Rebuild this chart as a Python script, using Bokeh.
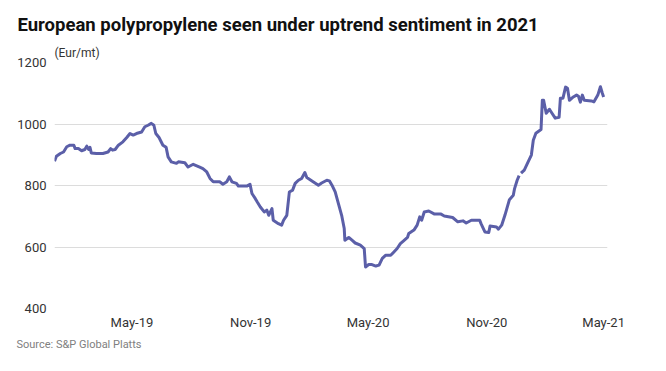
import numpy as np
import pandas as pd
from bokeh.plotting import figure
from bokeh.models import Range1d, FixedTicker, DatetimeTickFormatter, Title, ColumnDataSource
from bokeh.embed import file_html
from bokeh.resources import INLINE

# ---- data ----
dates = [
    "2019-01-01", "2019-01-04", "2019-01-10", "2019-01-15", "2019-01-20", "2019-01-25",
    "2019-01-31", "2019-02-02", "2019-02-07", "2019-02-12", "2019-02-17", "2019-02-20",
    "2019-02-23", "2019-02-25", "2019-02-27", "2019-03-07", "2019-03-17", "2019-03-25",
    "2019-03-29", "2019-04-01", "2019-04-05", "2019-04-10", "2019-04-17", "2019-04-23",
    "2019-04-28", "2019-05-03", "2019-05-08", "2019-05-16", "2019-05-21", "2019-05-26",
    "2019-05-31", "2019-06-04", "2019-06-07", "2019-06-12", "2019-06-18", "2019-06-23",
    "2019-06-26", "2019-07-01", "2019-07-09", "2019-07-12", "2019-07-22", "2019-07-27",
    "2019-08-04", "2019-08-14", "2019-08-19", "2019-08-25", "2019-08-30", "2019-09-04",
    "2019-09-14", "2019-09-19", "2019-09-25", "2019-09-29", "2019-10-03", "2019-10-10",
    "2019-10-13", "2019-10-26", "2019-10-31", "2019-11-03", "2019-11-08", "2019-11-11",
    "2019-11-16", "2019-11-22", "2019-11-26", "2019-11-29", "2019-12-04", "2019-12-06",
    "2019-12-14", "2019-12-19", "2019-12-22", "2019-12-27", "2019-12-31", "2020-01-05",
    "2020-01-09", "2020-01-14", "2020-01-19", "2020-01-24", "2020-01-27", "2020-02-04",
    "2020-02-14", "2020-02-19", "2020-02-27", "2020-03-02", "2020-03-06", "2020-03-11",
    "2020-03-16", "2020-03-21", "2020-03-25", "2020-03-26", "2020-04-01", "2020-04-06",
    "2020-04-11", "2020-04-19", "2020-04-25", "2020-04-27", "2020-05-02", "2020-05-07",
    "2020-05-13", "2020-05-18", "2020-05-23", "2020-05-28", "2020-06-05", "2020-06-10",
    "2020-06-15", "2020-06-20", "2020-06-25", "2020-07-01", "2020-07-03", "2020-07-11",
    "2020-07-16", "2020-07-20", "2020-07-23", "2020-07-27", "2020-08-03", "2020-08-12",
    "2020-08-22", "2020-08-27", "2020-09-09", "2020-09-17", "2020-09-25", "2020-09-30",
    "2020-10-08", "2020-10-21", "2020-10-23", "2020-10-29", "2020-11-04", "2020-11-06",
    "2020-11-16", "2020-11-19", "2020-11-24", "2020-11-29", "2020-12-02", "2020-12-06",
    "2020-12-12", "2020-12-14", "2020-12-18", "2020-12-21", "2020-12-22", "2020-12-24",
    "2020-12-29", "2021-01-04", "2021-01-09", "2021-01-12", "2021-01-16", "2021-01-24",
    "2021-01-26", "2021-01-28", "2021-02-01", "2021-02-06", "2021-02-10", "2021-02-15",
    "2021-02-21", "2021-02-23", "2021-02-27", "2021-03-03", "2021-03-06", "2021-03-09",
    "2021-03-15", "2021-03-20", "2021-03-23", "2021-03-26", "2021-03-29", "2021-04-01",
    "2021-04-12", "2021-04-16", "2021-04-22", "2021-04-26", "2021-04-29", "2021-05-01",
]
prices = [
    879, 895, 904, 909, 926, 931,
    931, 920, 920, 913, 917, 928,
    917, 924, 906, 904, 904, 909,
    920, 915, 917, 931, 942, 956,
    969, 964, 969, 974, 991, 996,
    1002, 996, 969, 956, 931, 924,
    893, 877, 872, 877, 874, 860,
    869, 860, 855, 844, 823, 812,
    812, 804, 812, 828, 812, 807,
    798, 798, 804, 774, 758, 747,
    730, 714, 720, 703, 725, 687,
    676, 671, 687, 703, 779, 785,
    807, 817, 823, 842, 826, 815,
    801, 808, 817, 815, 801, 779,
    741, 703, 660, 622, 631, 622,
    613, 606, 595, 535, 543, 543,
    538, 541, 563, 573, 573, 584,
    595, 611, 620, 631, 644, 655,
    671, 698, 687, 714, 717, 707,
    707, 701, 696, 682, 685, 678,
    687, 687, 676, 649, 647, 668,
    665, 658, 671, 703, 725, 754,
    768, 790, 817, 832, np.nan, 840,
    850, 877, 899, 947, 970, 982,
    1077, 1077, 1035, 1048, 1035, 1019,
    1022, 1084, 1084, 1120, 1116, 1077,
    1088, 1094, 1090, 1071, 1094, 1077,
    1075, 1072, 1094, 1121, 1100, 1088,
]

title_text = "European polypropylene seen under uptrend sentiment in 2021"
unit_text = "(Eur/mt)"
source_text = "Source: S&P Global Platts"
y_ticks = [400, 600, 800, 1000, 1200]
x_tick_dates = ["2019-05-01", "2019-11-01", "2020-05-01", "2020-11-01", "2021-05-01"]
x_start, x_end = "2019-01-01", "2021-05-07"

# ---- figure ----
FONT = "Roboto"
src = ColumnDataSource(dict(x=pd.to_datetime(dates), y=prices))

p = figure(width=666, height=371, x_axis_type="datetime",
           output_backend="svg", toolbar_location=None,
           x_range=Range1d(pd.Timestamp(x_start), pd.Timestamp(x_end)),
           y_range=Range1d(400, 1200),
           min_border_left=54, min_border_right=59,
           min_border_top=62, min_border_bottom=63)
p.title = None
p.outline_line_color = None
p.background_fill_color = "white"
p.border_fill_color = "white"

p.line("x", "y", source=src, line_color="#5b5fa8", line_width=3, line_join="round")

# axes
p.xgrid.grid_line_color = None
p.ygrid.grid_line_color = "#dcdcdc"
p.ygrid.grid_line_width = 1
p.yaxis.ticker = FixedTicker(ticks=y_ticks)
p.xaxis.ticker = FixedTicker(ticks=[pd.Timestamp(d).value / 1e6 for d in x_tick_dates])
p.xaxis.formatter = DatetimeTickFormatter(days="%b-%y", months="%b-%y", years="%b-%y")
for ax in (p.xaxis[0], p.yaxis[0]):
    ax.axis_line_color = None
    ax.major_tick_line_color = None
    ax.minor_tick_line_color = None
    ax.major_tick_out = 0
    ax.major_tick_in = 0
    ax.minor_tick_out = 0
    ax.minor_tick_in = 0
    ax.major_label_text_font = FONT
    ax.major_label_text_font_size = "13px"
    ax.major_label_text_color = "#333333"
p.yaxis.major_label_standoff = 8
p.xaxis.major_label_standoff = 6

# texts
p.add_layout(Title(text=unit_text, align="left", offset=0, standoff=5,
                   text_font=FONT, text_font_size="12px", text_font_style="normal",
                   text_color="#333333"), "above")
p.add_layout(Title(text=title_text, align="left", offset=-37, standoff=11,
                   text_font=FONT, text_font_size="18.5px", text_font_style="bold",
                   text_color="#111111"), "above")
p.add_layout(Title(text=source_text, align="left", offset=-38, standoff=7,
                   text_font=FONT, text_font_size="11px", text_font_style="normal",
                   text_color="#808080"), "below")

open("out.html", "w").write(file_html(p, INLINE))
